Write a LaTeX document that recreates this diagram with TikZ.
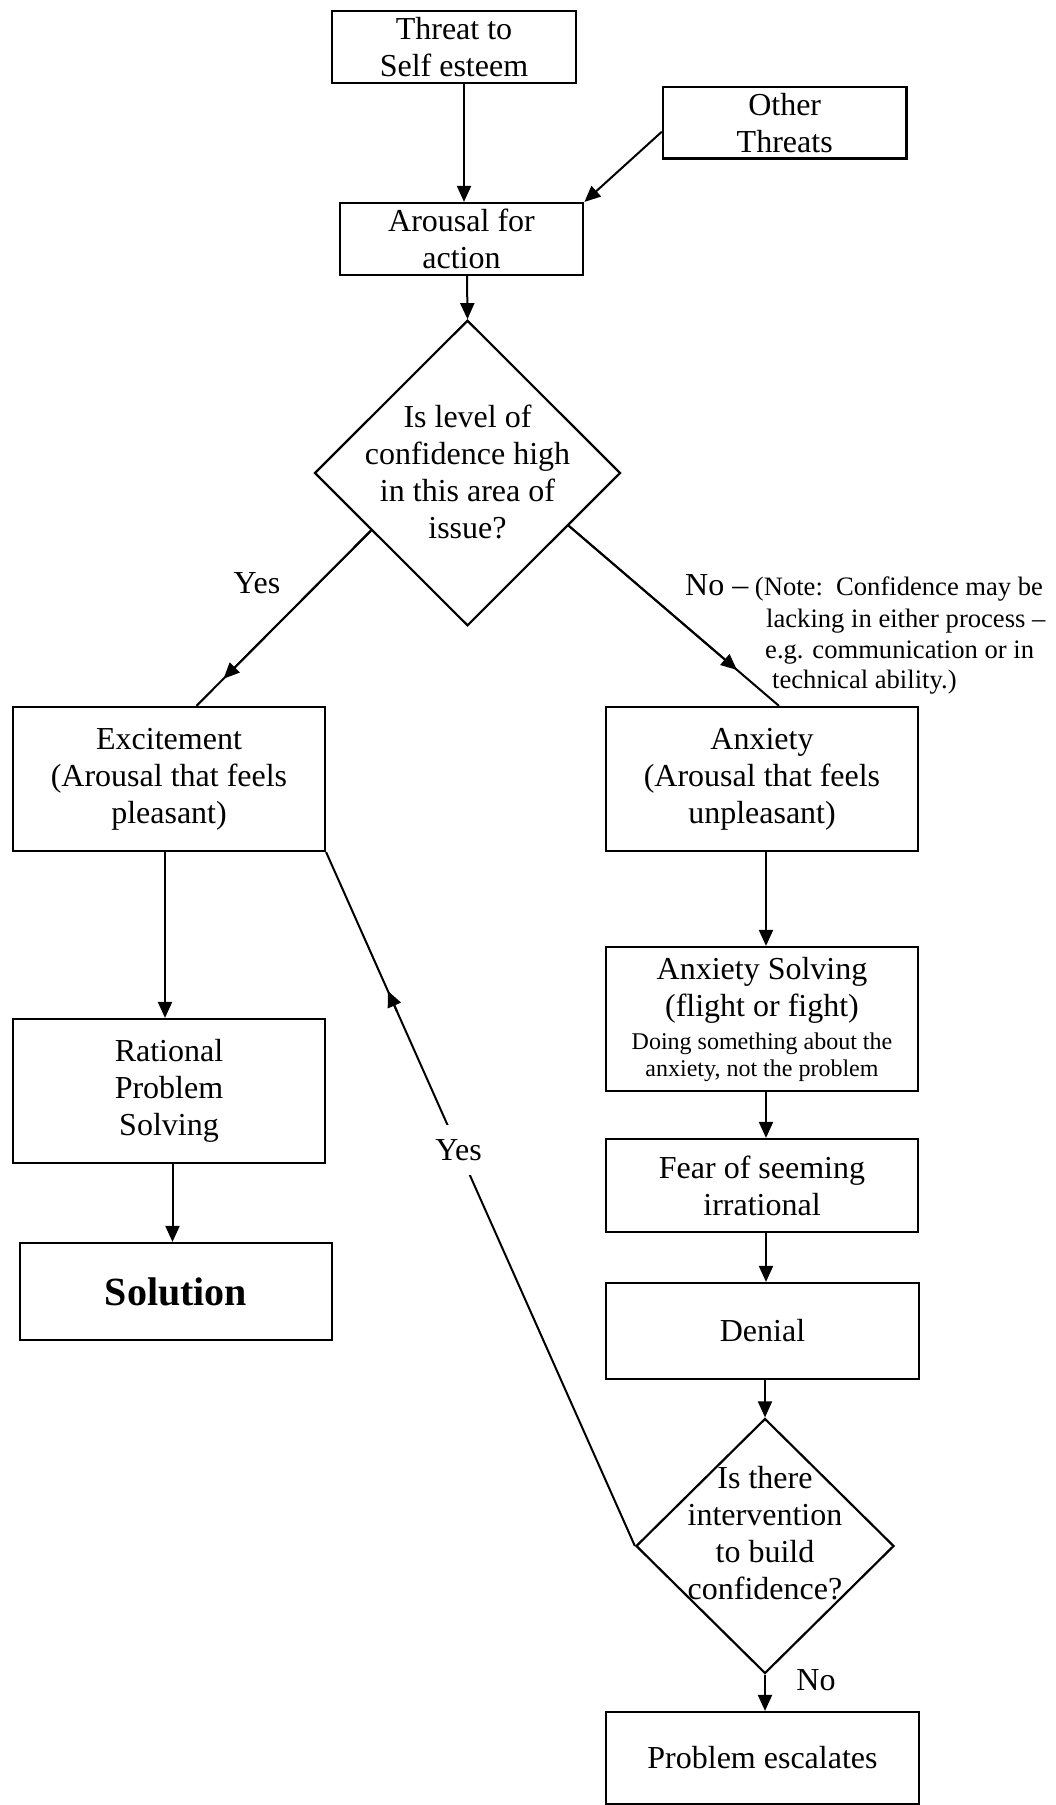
\documentclass[tikz,border=0pt]{standalone}
\usepackage{fontspec}
\setmainfont{Liberation Serif}
\usetikzlibrary{shapes.geometric,arrows.meta,calc}
\newcommand\msz{\fontsize{32}{37}\selectfont}
\newcommand\nsz{\fontsize{26.6}{31}\selectfont}
\newcommand\ssz{\fontsize{24}{27.5}\selectfont}
\newcommand\bsz{\fontsize{40}{46}\selectfont\bfseries}
\begin{document}
\begin{tikzpicture}[x=1pt,y=-1pt,
  box/.style={draw, line width=2.2pt, inner sep=0pt, align=center, font=\msz},
  dia/.style={draw, diamond, line width=2.2pt, inner sep=0pt},
  arr/.style={line width=2pt, -{Triangle[length=16pt,width=14pt]}},
  ln/.style={line width=2pt},
  lbl/.style={font=\msz, inner sep=0pt}]
\useasboundingbox (0,0) rectangle (1056,1805);

% boxes
\node[box, minimum width=244pt, minimum height=72pt] (threat) at (454,47) {Threat to\\Self esteem};
\node[box, minimum width=243.5pt, minimum height=71.5pt] (other) at (784.7,122.7) {Other\\Threats};
\node[box, minimum width=243.7pt, minimum height=71.6pt] (arousal) at (461.5,238.8) {Arousal for\\action};
\node[dia, minimum width=306pt, minimum height=305.5pt,
  label={[name=d1t, font=\msz, align=center, yshift=1.5pt]center:{Is level of\\confidence high\\in this area of\\issue?}}] (d1) at (467.5,473) {};
\node[box, minimum width=312pt, minimum height=144pt] (excite) at (169,779) {Excitement\\(Arousal that feels\\pleasant)};
\node[box, minimum width=312pt, minimum height=144pt] (anxiety) at (762,779) {Anxiety\\(Arousal that feels\\unpleasant)};
\node[box, minimum width=312pt, minimum height=144pt] (rational) at (169,1091) {Rational\\Problem\\Solving};
\node[box, minimum width=312pt, minimum height=97pt] (solution) at (176,1291.5) {\bsz Solution};
\node[box, minimum width=312pt, minimum height=144pt] (asolve) at (762,1019) {Anxiety Solving\\(flight or fight)\\[-4pt]{\ssz Doing something about the}\\[-10pt]{\ssz anxiety, not the problem}};
\node[box, minimum width=312pt, minimum height=93pt] (fear) at (762,1185.5) {Fear of seeming\\irrational};
\node[box, minimum width=313pt, minimum height=96pt] (denial) at (762.5,1331) {Denial};
\node[dia, minimum width=258pt, minimum height=255pt,
  label={[name=d2t, font=\msz, align=center, yshift=12.5pt]center:{Is there\\intervention\\to build\\confidence?}}] (d2) at (765,1546) {};
\node[box, minimum width=313pt, minimum height=92pt] (problem) at (762.5,1758) {Problem escalates};

% connectors top
\draw[arr] ($(threat.south)+(10,0)$) -- ($(arousal.north)+(2.5,0)$);
\draw[arr] ($(other.west)+(0,9)$) -- (arousal.north east);
\draw[arr] ($(arousal.south)+(5.5,0)$) -- (d1.north);

% Yes branch from d1
\coordinate (ys) at ($(d1.west)!0.374!(d1.south)$);
\coordinate (ye) at ($(excite.north)+(27.5,0)$);
\draw[ln] (ys) -- (ye);
\draw[arr] (ys) -- ($(ys)!0.845!(ye)$);
\node[lbl] (yes1) at (257,583) {Yes};

% No branch from d1
\coordinate (ns) at ($(d1.east)!0.343!(d1.south)$);
\coordinate (ne) at ($(anxiety.north)+(17,0)$);
\draw[ln] (ns) -- (ne);
\draw[arr] (ns) -- ($(ns)!0.8!(ne)$);
\node[lbl, anchor=base west] (note1) at (685,595) {No --\nsz\ (Note:\ \ Confidence may be};
\node[lbl, font=\nsz, anchor=base west] (note2) at (766,627) {lacking in either process --};
\node[lbl, font=\nsz, anchor=base west] (note3) at (765,658) {e.g. communication or in};
\node[lbl, font=\nsz, anchor=base west] (note4) at (772,688) {technical ability.)};

% left column
\draw[arr] ($(excite.south)+(-4,0)$) -- ($(rational.north)+(-4,0)$);
\draw[arr] ($(rational.south)+(3.5,0)$) -- ($(solution.north)+(-3.5,0)$);

% right column
\draw[arr] ($(anxiety.south)+(4,0)$) -- ($(asolve.north)+(4,0)$);
\draw[arr] ($(asolve.south)+(4,0)$) -- ($(fear.north)+(4,0)$);
\draw[arr] ($(fear.south)+(4,0)$) -- ($(denial.north)+(3.5,0)$);
\draw[arr] (denial.south -| d2.north) -- (d2.north);
\draw[arr] (d2.south) -- (d2.south |- problem.north);
\node[lbl] (no2) at (816,1680) {No};

% Yes loop back
\draw[ln] (d2.west) -- node[lbl, fill=white, pos=0.571, minimum height=50pt, inner xsep=3pt] (yes2) {Yes} (excite.south east);
\draw[arr] ($(d2.west)!0.77!(excite.south east)$) -- ($(d2.west)!0.80!(excite.south east)$);
\end{tikzpicture}
\end{document}
